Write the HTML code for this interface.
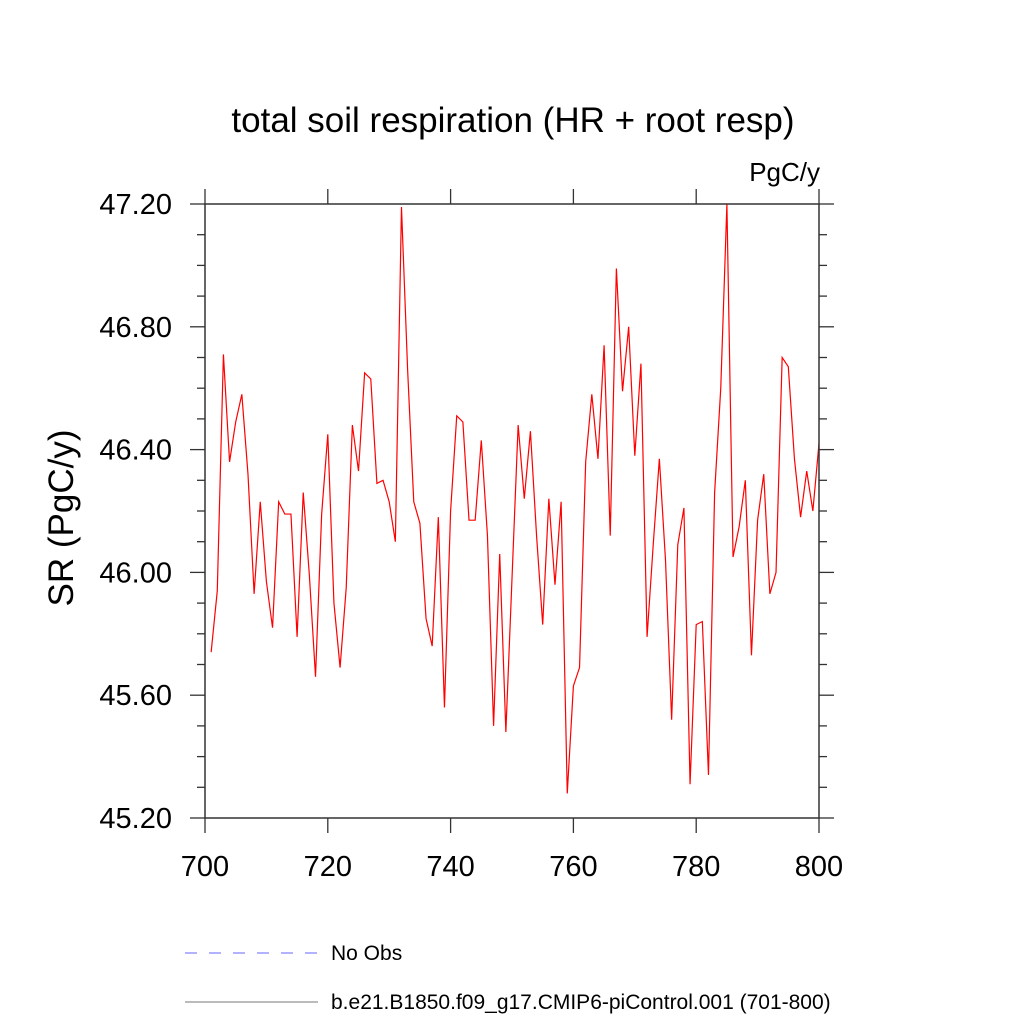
<!DOCTYPE html>
<html><head><meta charset="utf-8"><style>
body{margin:0;background:#fff}
svg text{font-family:"Liberation Sans",sans-serif}
</style></head><body>
<svg id="chart" width="1024" height="1024" viewBox="0 0 1024 1024">
<text x="513" y="132" text-anchor="middle" font-size="35">total soil respiration (HR + root resp)</text>
<text x="820" y="181" text-anchor="end" font-size="26">PgC/y</text>
<text transform="translate(73,518) rotate(-90)" text-anchor="middle" font-size="35">SR  (PgC/y)</text>
<g id="axes"></g>
<polyline id="series" fill="none" stroke="#ff0000" stroke-width="1.2"/>
<rect x="205" y="204" width="614" height="614" fill="none" stroke="#333" stroke-width="1.5"/>
<g>
<line x1="185" y1="953" x2="318" y2="953" stroke="#6666ff" stroke-width="1" stroke-dasharray="12,12"/>
<text x="331" y="960" font-size="21">No Obs</text>
<line x1="185" y1="1002" x2="318" y2="1002" stroke="#777" stroke-width="1"/>
<text x="331" y="1009" font-size="21">b.e21.B1850.f09_g17.CMIP6-piControl.001 (701-800)</text>
</g>
</svg>
<script>
const years = Array.from({length:100},(_,i)=>701+i);
const srValues = [45.74,45.94,46.71,46.36,46.49,46.58,46.32,45.93,46.23,45.97,
45.82,46.23,46.19,46.19,45.79,46.26,45.99,45.66,46.19,46.45,
45.90,45.69,45.95,46.48,46.33,46.65,46.63,46.29,46.30,46.23,
46.10,47.19,46.66,46.23,46.16,45.85,45.76,46.18,45.56,46.20,
46.51,46.49,46.17,46.17,46.43,46.12,45.50,46.06,45.48,45.98,
46.48,46.24,46.46,46.12,45.83,46.24,45.96,46.23,45.28,45.63,
45.69,46.36,46.58,46.37,46.74,46.12,46.99,46.59,46.80,46.38,
46.68,45.79,46.09,46.37,46.04,45.52,46.09,46.21,45.31,45.83,
45.84,45.34,46.26,46.60,47.20,46.05,46.15,46.30,45.73,46.17,
46.32,45.93,46.00,46.70,46.67,46.37,46.18,46.33,46.20,46.42];
const xTicks = [700,720,740,760,780,800];
const yTicks = [45.2,45.6,46.0,46.4,46.8,47.2];
const yMinor = [45.3,45.4,45.5,45.7,45.8,45.9,46.1,46.2,46.3,46.5,46.6,46.7,46.9,47.0,47.1];
const X0=205,X1=819,Y0=818,Y1=204;
const xs=v=>X0+(v-700)/100*(X1-X0);
const ys=v=>Y0-(v-45.2)/2*(Y0-Y1);
const NS='http://www.w3.org/2000/svg';
const ax=document.getElementById('axes');
function ln(x1,y1,x2,y2,name){const l=document.createElementNS(NS,'line');
l.setAttribute('x1',x1);l.setAttribute('y1',y1);l.setAttribute('x2',x2);l.setAttribute('y2',y2);
l.setAttribute('stroke','#333');l.setAttribute('stroke-width','1.3');


ax.appendChild(l);}
function tx(x,y,s,anchor,name){const t=document.createElementNS(NS,'text');
t.setAttribute('x',x);t.setAttribute('y',y);t.setAttribute('font-size','29');t.setAttribute('text-anchor',anchor);t.textContent=s;


ax.appendChild(t);}
xTicks.forEach(v=>{const x=xs(v);ln(x,Y0,x,Y0+15,'x-tick');ln(x,Y1,x,Y1-15,'x-tick-top');tx(x,Y0+58,String(v),'middle','x-tick-label');});
yTicks.forEach(v=>{const y=ys(v);ln(X0-15,y,X0,y,'y-tick');ln(X1,y,X1+15,y,'y-tick-right');tx(X0-33,y+10,v.toFixed(2),'end','y-tick-label');});
yMinor.forEach(v=>{const y=ys(v);ln(X0-8,y,X0,y,'y-minor-tick');ln(X1,y,X1+8,y,'y-minor-tick-right');});
document.getElementById('series').setAttribute('points',years.map((yr,i)=>xs(yr).toFixed(2)+','+ys(srValues[i]).toFixed(2)).join(' '));
</script>
</body></html>
